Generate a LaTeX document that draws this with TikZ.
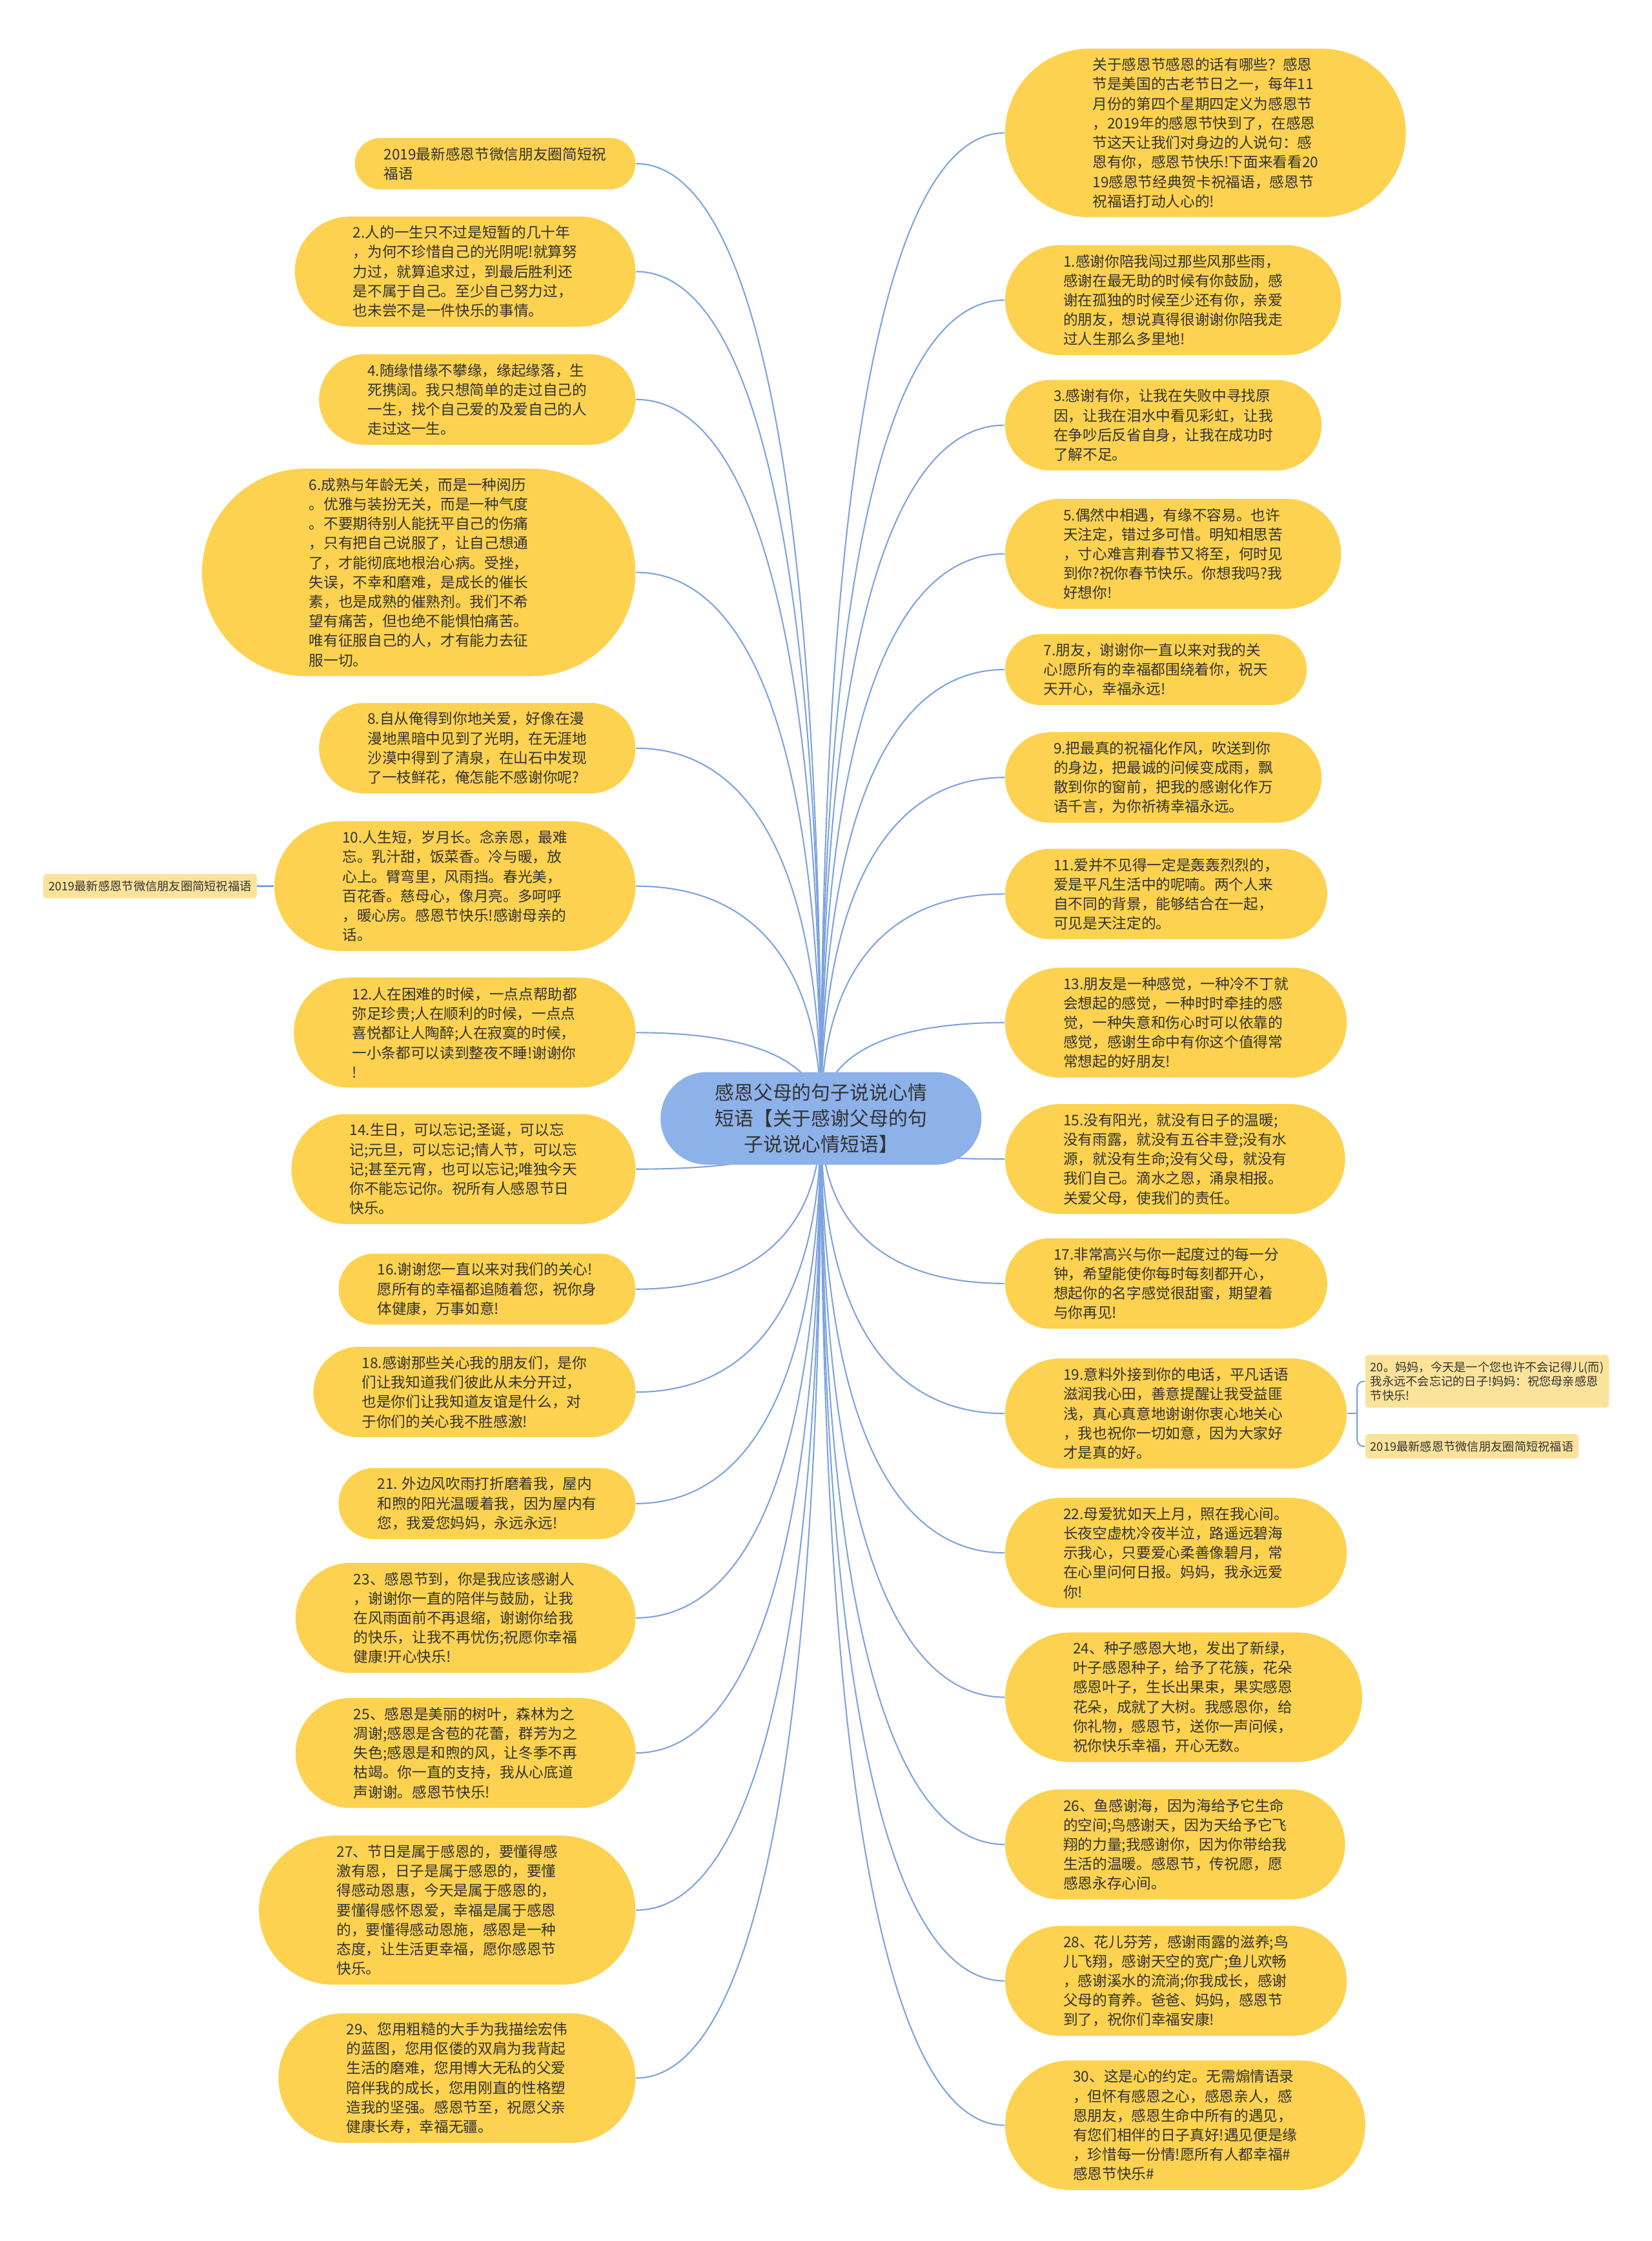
\documentclass[tikz,border=0pt]{standalone}
\usepackage{fontspec}
\setmainfont{Noto Sans CJK SC}
\usetikzlibrary{calc, backgrounds}

\definecolor{pillyellow}{HTML}{FCD250}
\definecolor{tagyellow}{HTML}{FBE39C}
\definecolor{rootblue}{HTML}{8DB1E9}
\definecolor{linkblue}{HTML}{7EA3DE}
\definecolor{txt}{HTML}{333333}

\begin{document}
\begin{tikzpicture}[x=0.2215mm, y=-0.2215mm,
	% pill=<number of text lines>
	pill/.style={rectangle, fill=pillyellow, text=txt, align=left,
		font=\fontsize{6.45}{8.6}\selectfont, inner ysep=0pt,
		minimum height=5.5pt+8.6pt*#1, rounded corners=2.74pt+4.3pt*#1,
		inner xsep=4.2pt+4.3pt*#1},
	tag/.style={rectangle, rounded corners=0.5mm, fill=tagyellow, text=txt,
		align=left, font=\fontsize{5.2}{6.2}\selectfont, inner xsep=2.3pt,
		inner ysep=3pt},
	root/.style={rectangle, fill=rootblue, text=txt, align=center,
		font=\fontsize{8.5}{11.5}\selectfont, inner xsep=24pt, inner ysep=0pt,
		minimum height=40.8pt, rounded corners=20.39pt},
	branch/.style={draw=linkblue, line width=0.6pt}]
	\useasboundingbox (0,0) rectangle (1156,1568);

	\node (root) at (574.5,782.5) [root] {感恩父母的句子说说心情\\短语【关于感谢父母的句\\子说说心情短语】};
	\coordinate (hub) at (root.center);

	% left side
	\node (L0) at (445,114.5) [pill=2, anchor=east] {2019最新感恩节微信朋友圈简短祝\\福语};
	\node (L2) at (445,190) [pill=5, anchor=east] {2.人的一生只不过是短暂的几十年\\
		，为何不珍惜自己的光阴呢!就算努\\力过，就算追求过，到最后胜利还\\
		是不属于自己。至少自己努力过，\\也未尝不是一件快乐的事情。};
	\node (L4) at (445,279.5) [pill=4, anchor=east] {4.随缘惜缘不攀缘，缘起缘落，生\\
		死携阔。我只想简单的走过自己的\\一生，找个自己爱的及爱自己的人\\走过这一生。};
	\node (L6) at (445,400.5) [pill=10, anchor=east] {6.成熟与年龄无关，而是一种阅历\\
		。优雅与装扮无关，而是一种气度\\。不要期待别人能抚平自己的伤痛\\
		，只有把自己说服了，让自己想通\\了，才能彻底地根治心病。受挫，\\
		失误，不幸和磨难，是成长的催长\\素，也是成熟的催熟剂。我们不希\\
		望有痛苦，但也绝不能惧怕痛苦。\\唯有征服自己的人，才有能力去征\\服一切。};
	\node (L8) at (445,523.5) [pill=4, anchor=east] {8.自从俺得到你地关爱，好像在漫\\
		漫地黑暗中见到了光明，在无涯地\\沙漠中得到了清泉，在山石中发现\\
		了一枝鲜花，俺怎能不感谢你呢?};
	\node (L10) at (445,620) [pill=6, anchor=east] {10.人生短，岁月长。念亲恩，最难\\
		忘。乳汁甜，饭菜香。冷与暖，放\\心上。臂弯里，风雨挡。春光美，\\
		百花香。慈母心，像月亮。多呵呼\\，暖心房。感恩节快乐!感谢母亲的\\话。};
	\node (L12) at (445,722.5) [pill=5, anchor=east] {12.人在困难的时候，一点点帮助都\\
		弥足珍贵;人在顺利的时候，一点点\\喜悦都让人陶醉;人在寂寞的时候，\\
		一小条都可以读到整夜不睡!谢谢你\\!};
	\node (L14) at (445,818) [pill=5, anchor=east] {14.生日，可以忘记;圣诞，可以忘\\
		记;元旦，可以忘记;情人节，可以忘\\记;甚至元宵，也可以忘记;唯独今天\\
		你不能忘记你。祝所有人感恩节日\\快乐。};
	\node (L16) at (445,902) [pill=3, anchor=east] {16.谢谢您一直以来对我们的关心!\\
		愿所有的幸福都追随着您，祝你身\\体健康，万事如意!};
	\node (L18) at (445,974) [pill=4, anchor=east] {18.感谢那些关心我的朋友们，是你\\
		们让我知道我们彼此从未分开过，\\也是你们让我知道友谊是什么，对\\
		于你们的关心我不胜感激!};
	\node (L21) at (445,1052) [pill=3, anchor=east] {21. 外边风吹雨打折磨着我，屋内\\
		和煦的阳光温暖着我，因为屋内有\\您，我爱您妈妈，永远永远!};
	\node (L23) at (445,1132) [pill=5, anchor=east] {23、感恩节到，你是我应该感谢人\\
		，谢谢你一直的陪伴与鼓励，让我\\在风雨面前不再退缩，谢谢你给我\\
		的快乐，让我不再忧伤;祝愿你幸福\\健康!开心快乐!};
	\node (L25) at (445,1226.5) [pill=5, anchor=east] {25、感恩是美丽的树叶，森林为之\\
		凋谢;感恩是含苞的花蕾，群芳为之\\失色;感恩是和煦的风，让冬季不再\\
		枯竭。你一直的支持，我从心底道\\声谢谢。感恩节快乐!};
	\node (L27) at (445,1336.5) [pill=7, anchor=east] {27、节日是属于感恩的，要懂得感\\
		激有恩，日子是属于感恩的，要懂\\得感动恩惠，今天是属于感恩的，\\
		要懂得感怀恩爱，幸福是属于感恩\\的，要懂得感动恩施，感恩是一种\\
		态度，让生活更幸福，愿你感恩节\\快乐。};
	\node (L29) at (445,1454) [pill=6, anchor=east] {29、您用粗糙的大手为我描绘宏伟\\
		的蓝图，您用伛偻的双肩为我背起\\生活的磨难，您用博大无私的父爱\\
		陪伴我的成长，您用刚直的性格塑\\造我的坚强。感恩节至，祝愿父亲\\
		健康长寿，幸福无疆。};
	\node (tagL) at (180,620) [tag, anchor=east] {2019最新感恩节微信朋友圈简短祝福语};

	% right side
	\node (R0) at (703,93) [pill=8, anchor=west] {关于感恩节感恩的话有哪些？感恩\\
		节是美国的古老节日之一，每年11\\月份的第四个星期四定义为感恩节\\
		，2019年的感恩节快到了，在感恩\\节这天让我们对身边的人说句：感\\
		恩有你，感恩节快乐!下面来看看20\\19感恩节经典贺卡祝福语，感恩节\\
		祝福语打动人心的!};
	\node (R1) at (703,210) [pill=5, anchor=west] {1.感谢你陪我闯过那些风那些雨，\\
		感谢在最无助的时候有你鼓励，感\\谢在孤独的时候至少还有你，亲爱\\
		的朋友，想说真得很谢谢你陪我走\\过人生那么多里地!};
	\node (R3) at (703,297.5) [pill=4, anchor=west] {3.感谢有你，让我在失败中寻找原\\
		因，让我在泪水中看见彩虹，让我\\在争吵后反省自身，让我在成功时\\了解不足。};
	\node (R5) at (703,387.5) [pill=5, anchor=west] {5.偶然中相遇，有缘不容易。也许\\
		天注定，错过多可惜。明知相思苦\\，寸心难言荆春节又将至，何时见\\
		到你?祝你春节快乐。你想我吗?我\\好想你!};
	\node (R7) at (703,468.5) [pill=3, anchor=west] {7.朋友，谢谢你一直以来对我的关\\
		心!愿所有的幸福都围绕着你，祝天\\天开心，幸福永远!};
	\node (R9) at (703,544) [pill=4, anchor=west] {9.把最真的祝福化作风，吹送到你\\
		的身边，把最诚的问候变成雨，飘\\散到你的窗前，把我的感谢化作万\\
		语千言，为你祈祷幸福永远。};
	\node (R11) at (703,625.5) [pill=4, anchor=west] {11.爱并不见得一定是轰轰烈烈的，\\
		爱是平凡生活中的呢喃。两个人来\\自不同的背景，能够结合在一起，\\可见是天注定的。};
	\node (R13) at (703,715.5) [pill=5, anchor=west] {13.朋友是一种感觉，一种冷不丁就\\
		会想起的感觉，一种时时牵挂的感\\觉，一种失意和伤心时可以依靠的\\
		感觉，感谢生命中有你这个值得常\\常想起的好朋友!};
	\node (R15) at (703,811) [pill=5, anchor=west] {15.没有阳光，就没有日子的温暖;\\
		没有雨露，就没有五谷丰登;没有水\\源，就没有生命;没有父母，就没有\\
		我们自己。滴水之恩，涌泉相报。\\关爱父母，使我们的责任。};
	\node (R17) at (703,898) [pill=4, anchor=west] {17.非常高兴与你一起度过的每一分\\
		钟，希望能使你每时每刻都开心，\\想起你的名字感觉很甜蜜，期望着\\与你再见!};
	\node (R19) at (703,989) [pill=5, anchor=west] {19.意料外接到你的电话，平凡话语\\
		滋润我心田，善意提醒让我受益匪\\浅，真心真意地谢谢你衷心地关心\\
		，我也祝你一切如意，因为大家好\\才是真的好。};
	\node (R22) at (703,1086.5) [pill=5, anchor=west] {22.母爱犹如天上月，照在我心间。\\
		长夜空虚枕冷夜半泣，路遥远碧海\\示我心，只要爱心柔善像碧月，常\\
		在心里问何日报。妈妈，我永远爱\\你!};
	\node (R24) at (703,1187.5) [pill=6, anchor=west] {24、种子感恩大地，发出了新绿，\\
		叶子感恩种子，给予了花簇，花朵\\感恩叶子，生长出果束，果实感恩\\
		花朵，成就了大树。我感恩你，给\\你礼物，感恩节，送你一声问候，\\
		祝你快乐幸福，开心无数。};
	\node (R26) at (703,1290.5) [pill=5, anchor=west] {26、鱼感谢海，因为海给予它生命\\
		的空间;鸟感谢天，因为天给予它飞\\翔的力量;我感谢你，因为你带给我\\
		生活的温暖。感恩节，传祝愿，愿\\感恩永存心间。};
	\node (R28) at (703,1386) [pill=5, anchor=west] {28、花儿芬芳，感谢雨露的滋养;鸟\\
		儿飞翔，感谢天空的宽广;鱼儿欢畅\\，感谢溪水的流淌;你我成长，感谢\\
		父母的育养。爸爸、妈妈，感恩节\\到了，祝你们幸福安康!};
	\node (R30) at (703,1487) [pill=6, anchor=west] {30、这是心的约定。无需煽情语录\\
		，但怀有感恩之心，感恩亲人，感\\恩朋友，感恩生命中所有的遇见，\\
		有您们相伴的日子真好!遇见便是缘\\，珍惜每一份情!愿所有人都幸福\#\\感恩节快乐\#};
	\node (tag20) at (955,966.5) [tag, anchor=west] {20。妈妈，今天是一个您也许不会记得儿(而)\\
		我永远不会忘记的日子!妈妈：祝您母亲感恩\\节快乐!};
	\node (tagR) at (955,1012) [tag, anchor=west] {2019最新感恩节微信朋友圈简短祝福语};
	\coordinate (j19) at ($(R19.east)+(7,0)$);

	% connectors
	\begin{scope}[on background layer]
		\foreach \n in {L0,L2,L4,L6,L8,L10,L12,L14,L16,L18,L21,L23,L25,L27,L29}
			\draw[branch] (hub) .. controls ($(hub)!.65!(hub |- \n.east)$)
				and ($(\n.east)!.65!(hub |- \n.east)$) .. (\n.east);
		\foreach \n in {R0,R1,R3,R5,R7,R9,R11,R13,R15,R17,R19,R22,R24,R26,R28,R30}
			\draw[branch] (hub) .. controls ($(hub)!.65!(hub |- \n.west)$)
				and ($(\n.west)!.65!(hub |- \n.west)$) .. (\n.west);
		\draw[branch] (L10.west) -- (tagL.east);
		\draw[branch] (R19.east) -- (j19);
		\draw[branch, rounded corners=1mm] (j19) |- (tag20.west);
		\draw[branch, rounded corners=1mm] (j19) |- (tagR.west);
	\end{scope}
\end{tikzpicture}
\end{document}
